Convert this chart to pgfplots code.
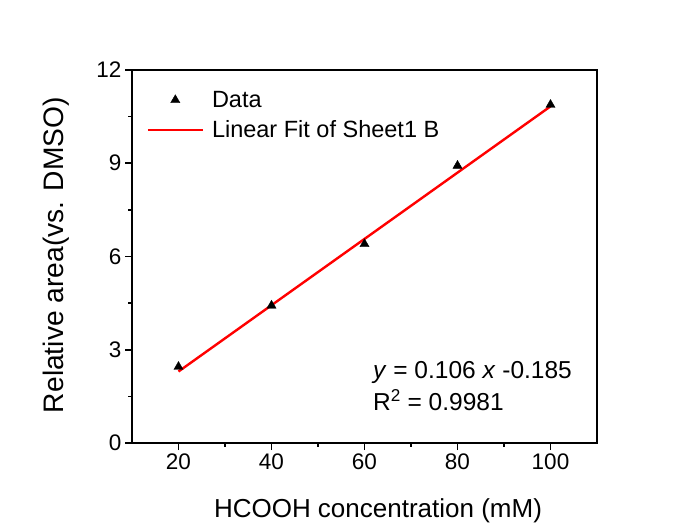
\documentclass[border=0pt]{standalone}
\usepackage{fontspec}
\setmainfont{Liberation Sans}
\usepackage{pgfplots}
\pgfplotsset{compat=1.18}
\begin{document}
\begin{tikzpicture}
\path[use as bounding box] (0pt,0pt) rectangle (678pt,525pt);
\begin{axis}[
 at={(132pt,82pt)}, anchor=south west,
 scale only axis, width=465pt, height=373pt,
 xmin=10, xmax=110, ymin=0, ymax=12,
 xtick={20,40,...,100}, ytick={0,3,...,12},
 minor xtick={30,50,70,90}, minor ytick={1.5,4.5,7.5,10.5},
 tick pos=left, tick align=outside,
 major tick length=7pt, minor tick length=4pt,
 axis line style={line width=1.6pt},
 every tick/.style={line width=1.6pt, black},
 /pgf/number format/assume math mode=true,
 ticklabel style={font=\fontsize{22.5}{26}\selectfont},
 xlabel={HCOOH concentration (mM)},
 ylabel={Relative area(vs. DMSO)},
 xlabel style={font=\fontsize{26}{31}\selectfont, at={(axis description cs:0.529,-0.201)}, anchor=base},
 ylabel style={font=\fontsize{28.2}{33}\selectfont, at={(axis description cs:-0.148,0.504)}, anchor=base},
 legend style={at={(axis description cs:0.031,0.949)}, anchor=north west, draw=none, fill=none,
   font=\fontsize{23.5}{28}\selectfont, row sep=8pt, inner sep=0pt},
 legend cell align=left,
 legend image code/.code={\draw[mark repeat=2,mark phase=2,#1] plot coordinates {(0pt,0pt)(27.5pt,0pt)(55pt,0pt)}; \path (61pt,0pt);},
 clip=false,
]
\addplot[only marks, mark=triangle*, mark size=5.3pt, black] coordinates {(20,2.45)(40,4.42)(60,6.4)(80,8.92)(100,10.88)};
\addplot[red, line width=2.4pt, mark=none] coordinates {(20,2.3)(100,10.83)};
\legend{Data, Linear Fit of Sheet1 B}
\node[anchor=base west, inner sep=0pt, font=\fontsize{24.5}{29}\selectfont] at (axis description cs:0.518,0.172) {\textit{y} = 0.106 \textit{x} -0.185};
\node[anchor=base west, inner sep=0pt, font=\fontsize{24.5}{29}\selectfont] at (axis description cs:0.518,0.086) {R\textsuperscript{2} = 0.9981};
\end{axis}
\end{tikzpicture}
\end{document}
